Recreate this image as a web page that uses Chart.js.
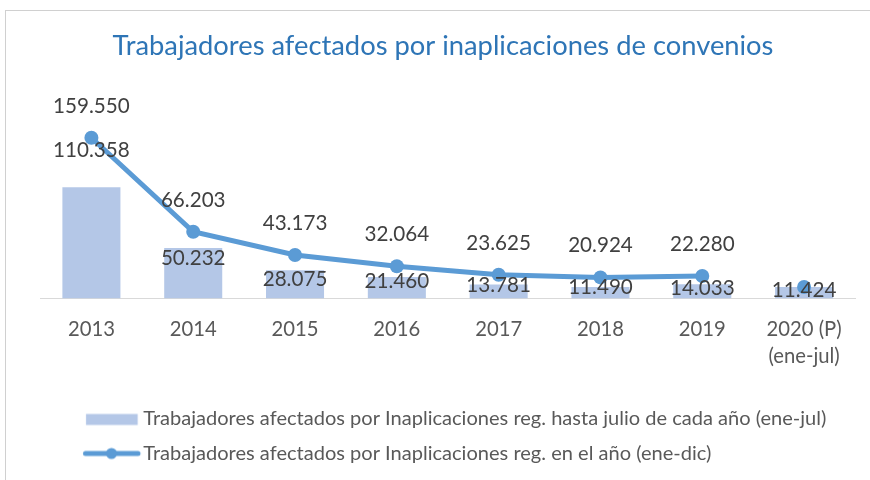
<!DOCTYPE html>
<html><head><meta charset="utf-8">
<script src="https://cdn.jsdelivr.net/npm/chart.js@4.4.1/dist/chart.umd.min.js"></script>
<style>
html,body{margin:0;padding:0;background:#fff;}
#wrap{position:relative;width:870px;height:480px;overflow:hidden;}
#frame{position:absolute;left:5px;top:10px;width:900px;height:500px;border-left:1px solid #D0D0D0;border-top:1px solid #D0D0D0;}
canvas{position:absolute;left:0;top:0;}
</style></head><body>
<div id="wrap"><div id="frame"></div><canvas id="c" width="870" height="480"></canvas></div>
<script>
// ---- data ----
const categories = ['2013','2014','2015','2016','2017','2018','2019',['2020 (P)','(ene-jul)']];
const barValues  = [110358, 50232, 28075, 21460, 13781, 11490, 14033, 11424];
const lineValues = [159550, 66203, 43173, 32064, 23625, 20924, 22280, 11424];
const showLineLabel = [true, true, true, true, true, true, true, false];
const barSeriesName  = 'Trabajadores afectados por Inaplicaciones reg. hasta julio de cada año (ene-jul)';
const lineSeriesName = 'Trabajadores afectados por Inaplicaciones reg. en el año (ene-dic)';
const titleText = 'Trabajadores afectados por inaplicaciones de convenios';

// ---- style ----
const FAMILY = 'Lato';
const barColor = '#B4C7E7';
const lineColor = '#5B9BD5';
const titleColor = '#2E75B6';
const tickColor = '#595959';
const labelColor = '#404040';
const yMax = 198500;
const barLabelDy = [13, 27, 24, 15, 11, 10, 12, 3.5];
const lineLabelDy = -31.7;

function fit(text, target) {
  const c = document.createElement('canvas').getContext('2d');
  c.font = '100px ' + FAMILY;
  return 100 * target / c.measureText(text).width;
}
const fmt = v => String(v).replace(/\B(?=(\d{3})+(?!\d))/g, '.');

const fTitle = fit(titleText, 661);
const fTick = fit('2013', 47);
const fLabel = fit('159.550', 76.7);
const fLeg = fit(barSeriesName, 683.4);

// layout
const chartTop = 98.5, chartBottom = 298.5;
const hT = fTitle * 1.2;
const titlePadTop = 45.9 - hT / 2;
const titlePadBottom = chartTop - titlePadTop - hT;
const rowGap = 35;
const legPad = rowGap - fLeg;
const legTop = 418.5 - legPad - fLeg / 2;
const legH = 2 * rowGap + 10;
const xAxisH = legTop - chartBottom;
const padBottom = 480 - legTop - legH;
const padLeft = 16;

// legend symbols
const x0 = padLeft + legPad;
const boxW = 143.3 - x0 - fLeg / 2;
const cx = x0 + boxW / 2;
const half = Math.ceil(Math.max(142 - cx, cx - 80));
const leftEdge = cx - half;
function makeSym(kind) {
  const cv = document.createElement('canvas');
  cv.width = 2 * half; cv.height = 16;
  const g = cv.getContext('2d');
  if (kind === 'bar') {
    g.fillStyle = barColor;
    g.fillRect(86 - leftEdge, 8 - 5.5 + 1, 51.7, 11);
  } else {
    g.strokeStyle = lineColor; g.lineWidth = 5; g.lineCap = 'round';
    g.beginPath(); g.moveTo(85.5 - leftEdge, 8); g.lineTo(138 - leftEdge, 8); g.stroke();
    g.fillStyle = lineColor; g.beginPath(); g.arc(111.5 - leftEdge, 8, 5.5, 0, Math.PI * 2); g.fill();
  }
  return cv;
}
const barSym = makeSym('bar'), lineSym = makeSym('line');

const labelPlugin = {
  id: 'valueLabels',
  afterDatasetsDraw(chart) {
    const ctx = chart.ctx;
    const bars = chart.getDatasetMeta(0).data;
    const pts = chart.getDatasetMeta(1).data;
    ctx.save();
    ctx.font = fLabel + 'px ' + FAMILY;
    ctx.fillStyle = labelColor;
    ctx.textAlign = 'center';
    ctx.textBaseline = 'middle';
    for (let i = 0; i < categories.length; i++) {
      const p = pts[i];
      if (showLineLabel[i]) ctx.fillText(fmt(lineValues[i]), p.x, p.y + lineLabelDy);
      ctx.fillText(fmt(barValues[i]), bars[i].x, p.y + barLabelDy[i]);
    }
    ctx.restore();
  }
};

new Chart(document.getElementById('c'), {
  data: {
    labels: categories,
    datasets: [
      { type: 'bar', label: barSeriesName, data: barValues, backgroundColor: barColor,
        barPercentage: 0.57, categoryPercentage: 1, order: 1 },
      { type: 'line', label: lineSeriesName, data: lineValues, borderColor: lineColor, backgroundColor: lineColor,
        borderWidth: 5, pointRadius: 7, pointHoverRadius: 7, pointBorderWidth: 0, pointBackgroundColor: lineColor,
        tension: 0, fill: false, order: 0,
        segment: { borderColor: c => c.p1DataIndex === categories.length - 1 ? 'rgba(0,0,0,0)' : lineColor } }
    ]
  },
  options: {
    responsive: false,
    animation: false,
    layout: { padding: { left: padLeft, right: 0, top: 0, bottom: padBottom } },
    scales: {
      x: {
        offset: true,
        grid: { display: false, drawTicks: false },
        border: { display: true, color: '#D9D9D9', width: 1 },
        ticks: { color: tickColor, font: { family: FAMILY, size: fTick, lineHeight: 27 / fTick },
                 padding: 17.5, maxRotation: 0, autoSkip: false },
        afterFit: s => { s.height = xAxisH; }
      },
      y: {
        display: true, min: 0, max: yMax,
        ticks: { display: false }, grid: { display: false }, border: { display: false },
        afterFit: s => { s.width = 24.5; }
      },
      y2: {
        display: true, position: 'right',
        ticks: { display: false }, grid: { display: false }, border: { display: false },
        afterFit: s => { s.width = 15; }
      }
    },
    plugins: {
      title: {
        display: true, text: titleText, color: titleColor,
        font: { family: FAMILY, size: fTitle, weight: 'normal', lineHeight: 1.2 },
        padding: { top: titlePadTop, bottom: titlePadBottom }
      },
      legend: {
        position: 'bottom', align: 'start',
        labels: {
          usePointStyle: true, pointStyleWidth: boxW, padding: legPad,
          color: tickColor, font: { family: FAMILY, size: fLeg },
          generateLabels: () => [
            { text: barSeriesName, pointStyle: barSym, fillStyle: 'rgba(0,0,0,0)', strokeStyle: 'rgba(0,0,0,0)',
              lineWidth: 0, hidden: false, datasetIndex: 0, fontColor: tickColor },
            { text: lineSeriesName, pointStyle: lineSym, fillStyle: 'rgba(0,0,0,0)', strokeStyle: 'rgba(0,0,0,0)',
              lineWidth: 0, hidden: false, datasetIndex: 1, fontColor: tickColor }
          ]
        }
      },
      tooltip: { enabled: false }
    }
  },
  plugins: [labelPlugin]
});
</script>
</body></html>
